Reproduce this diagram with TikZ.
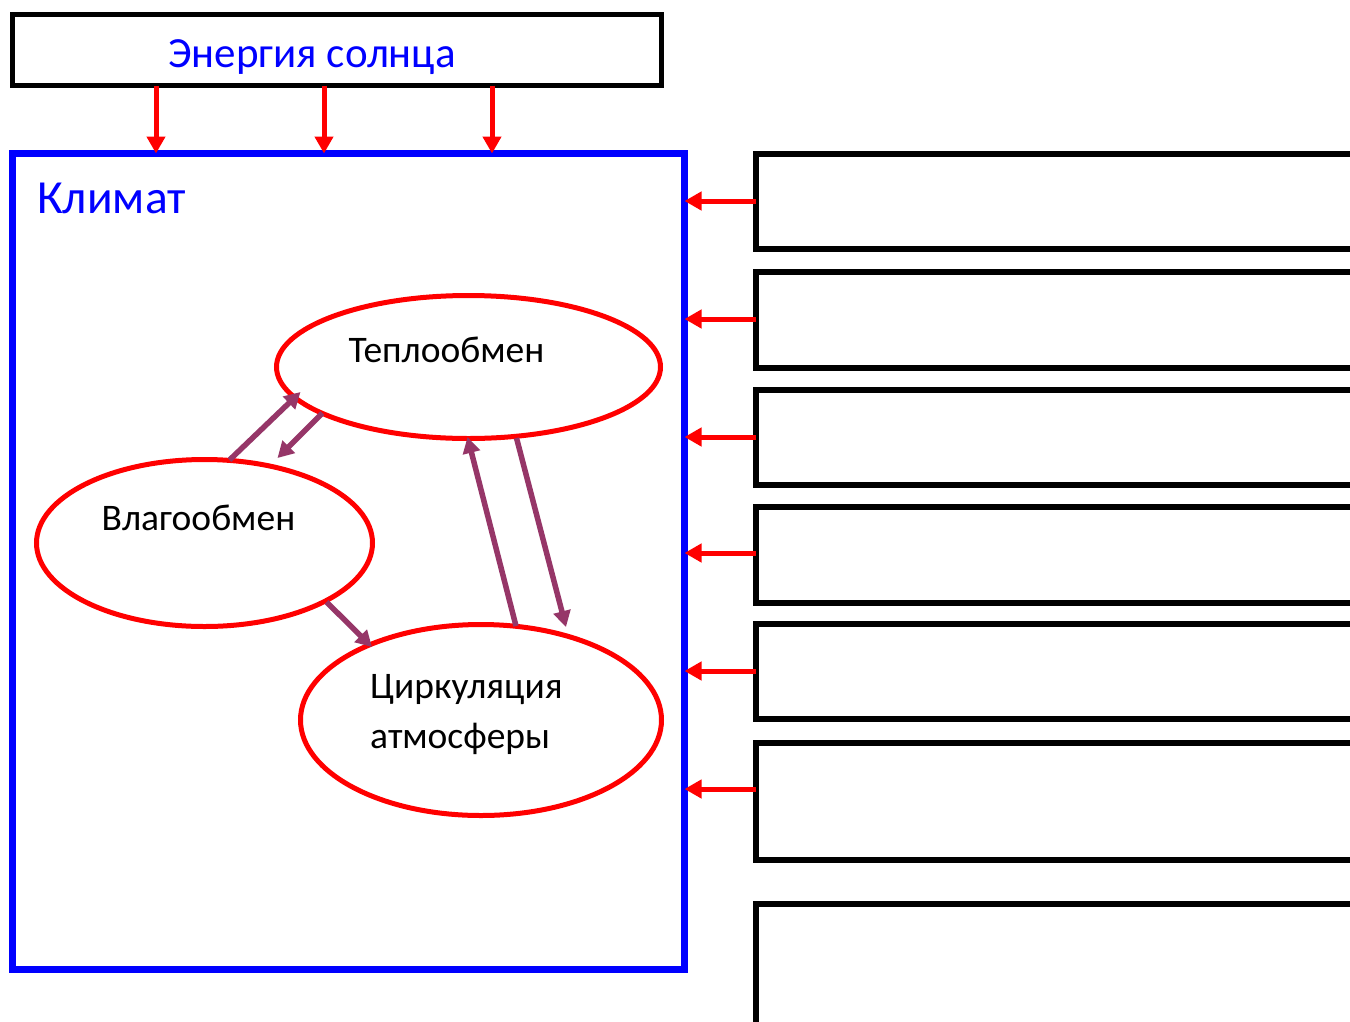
\documentclass[tikz,border=0pt]{standalone}
\usepackage{fontspec}
\setmainfont{Carlito}
\usetikzlibrary{arrows.meta,shapes.geometric,calc}

\definecolor{sunred}{RGB}{255,0,0}
\definecolor{climblue}{RGB}{0,0,255}
\definecolor{linkpurple}{RGB}{150,54,104}

\tikzset{
  sunbox/.style={draw=black, line width=5pt, rectangle, anchor=north west, inner sep=0pt, outer sep=0pt},
  climbox/.style={draw=climblue, line width=7pt, rectangle, anchor=north west, inner sep=0pt, outer sep=0pt},
  factorbox/.style={draw=black, line width=5.5pt, rectangle, anchor=north west, inner sep=0pt, outer sep=0pt},
  process/.style={draw=sunred, line width=5pt, ellipse, inner sep=0pt, outer sep=0pt},
  proctext/.style={text=black, font=\fontsize{37.5}{42}\selectfont, inner sep=0pt},
  influx/.style={draw=sunred, line width=5pt, -{Triangle[length=17pt,width=18pt]}},
  link/.style={draw=linkpurple, line width=5.5pt, -{Triangle[length=16pt,width=17pt]}}
}

\begin{document}
\begin{tikzpicture}[x=1pt,y=-1pt]
  \useasboundingbox (0,0) rectangle (1350,1021);
  \clip (0,0) rectangle (1350,1021);
  \fill[white] (0,0) rectangle (1350,1021);

  % solar energy source
  \node[sunbox, minimum width=649pt, minimum height=71.5pt] (sun) at (12,14) {};
  \node[text=climblue, font=\fontsize{43}{48}\selectfont, inner sep=0pt, anchor=base] (suntxt) at (312,67) {Энергия солнца};

  % climate system frame
  \node[climbox, minimum width=672pt, minimum height=815.5pt] (clim) at (12.5,153.5) {};
  \node[text=climblue, font=\fontsize{47.5}{52}\selectfont, inner sep=0pt, anchor=base west] (climtxt) at (37,213) {Климат};

  % solar input arrows
  \foreach \xx in {156,324,492}
    \draw[influx] (sun.south -| \xx,0) -- (clim.north -| \xx,0);

  % processes inside the climate system
  \node[process, minimum width=384pt, minimum height=143pt] (heat) at (468.5,367) {};
  \node[process, minimum width=336pt, minimum height=167pt] (moist) at (204.5,543) {};
  \node[process, minimum width=361pt, minimum height=191pt] (circ) at (481,720) {};

  \node[proctext, anchor=base] (heattxt) at (446.5,362) {Теплообмен};
  \node[proctext, anchor=base] (moisttxt) at (198.5,530) {Влагообмен};
  \node[proctext, anchor=base west] (circtxt1) at (370,698) {Циркуляция};
  \node[proctext, anchor=base west] (circtxt2) at (370,748) {атмосферы};

  % interactions between processes
  \draw[link] ($(moist.center)+(25,-83)$) -- ($(heat.center)+(-168,25)$);
  \draw[link] ($(heat.center)+(-146,46)$) -- ($(moist.center)+(73,-85)$);
  \draw[link] ($(moist.center)+(122,59)$) -- ($(circ.center)+(-109,-73)$);
  \draw[link] ($(circ.center)+(35,-94)$) -- ($(heat.center)+(-1,70)$);
  \draw[link] ($(heat.center)+(48,71)$) -- ($(circ.center)+(85,-93)$);

  % external factor boxes
  \node[factorbox, minimum width=620pt, minimum height=95pt]  (f1) at (756,154) {};
  \node[factorbox, minimum width=620pt, minimum height=96pt]  (f2) at (756,272) {};
  \node[factorbox, minimum width=620pt, minimum height=95pt]  (f3) at (756,390) {};
  \node[factorbox, minimum width=620pt, minimum height=96pt]  (f4) at (756,507) {};
  \node[factorbox, minimum width=620pt, minimum height=95pt]  (f5) at (756,624) {};
  \node[factorbox, minimum width=620pt, minimum height=117pt] (f6) at (756,743) {};
  \node[factorbox, minimum width=620pt, minimum height=140pt] (f7) at (756,904) {};

  % factor influence arrows
  \foreach \ff/\yy in {f1/201,f2/319,f3/437,f4/553,f5/671,f6/789}
    \draw[influx] (\ff.west |- 0,\yy) -- (clim.east |- 0,\yy);
\end{tikzpicture}
\end{document}
